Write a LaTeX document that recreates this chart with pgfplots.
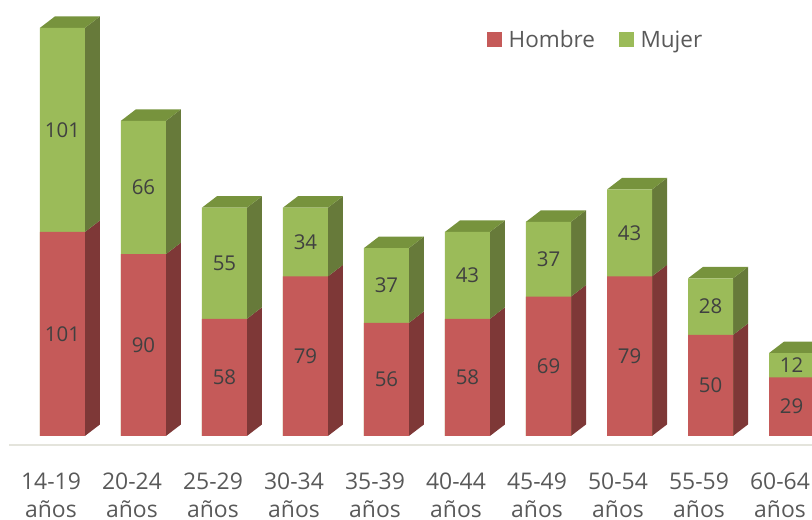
\documentclass[border=0pt]{standalone}
\usepackage{pgfplots}
\usepackage{pgfplotstable}
\pgfplotsset{compat=1.18}
\usepackage{fontspec}
\setmainfont{Open Sans}
\definecolor{hfront}{HTML}{C55A59}
\definecolor{hside}{HTML}{7E3837}
\definecolor{mfront}{HTML}{9BBB59}
\definecolor{mside}{HTML}{677A3A}
\definecolor{mtop}{HTML}{77933D}
\definecolor{floorc}{HTML}{E4E4DC}
\definecolor{ticktext}{HTML}{595959}
\definecolor{labtext}{HTML}{404040}

\pgfplotstableread{
x h m
0 101 101
1 90 66
2 58 55
3 79 34
4 56 37
5 58 43
6 69 37
7 79 43
8 50 28
9 29 12
}\datatable

\newcommand\hw{0.27778}
\newcommand\ddx{0.18519}
\newcommand\ddy{5.693}

\newcommand\barfaces[1]{%
  \pgfplotstablegetelem{#1}{h}\of\datatable \let\hval\pgfplotsretval
  \pgfplotstablegetelem{#1}{m}\of\datatable \let\mval\pgfplotsretval
  \pgfmathsetmacro\xl{#1-\hw}%
  \pgfmathsetmacro\xr{#1+\hw}%
  \pgfmathsetmacro\xlb{#1-\hw+\ddx}%
  \pgfmathsetmacro\xrb{#1+\hw+\ddx}%
  \pgfmathsetmacro\tval{\hval+\mval}%
  \pgfmathsetmacro\hb{\hval+\ddy}%
  \pgfmathsetmacro\tb{\tval+\ddy}%
  \edef\doit{%
    \noexpand\addplot[fill=hside, draw=none, forget plot] coordinates {(\xr,0) (\xrb,\ddy) (\xrb,\hb) (\xr,\hval)};
    \noexpand\addplot[fill=mside, draw=none, forget plot] coordinates {(\xr,\hval) (\xrb,\hb) (\xrb,\tb) (\xr,\tval)};
    \noexpand\addplot[fill=mtop, draw=none, forget plot] coordinates {(\xl,\tval) (\xlb,\tb) (\xrb,\tb) (\xr,\tval)};
  }\doit
}

\begin{document}
\begin{tikzpicture}
\begin{axis}[
  x=81bp, y=2.02bp,
  xmin=-0.660, xmax=9.253, ymin=-4.46, ymax=215.8,
  axis y line=none,
  axis x line*=bottom,
  x axis line style={draw=floorc, line width=2bp, -},
  xtick={0,...,9},
  major tick length=0pt,
  xticklabels={14-19\\años,20-24\\años,25-29\\años,30-34\\años,35-39\\años,40-44\\años,45-49\\años,50-54\\años,55-59\\años,60-64\\años},
  xticklabel style={align=center, anchor=north, inner sep=0pt, xshift=-11.5bp, yshift=-28bp, font=\fontsize{23}{28}\selectfont, text=ticktext},
  clip=true,
  legend columns=2,
  legend style={draw=none, fill=none, at={(rel axis cs:0.5953,0.9112)}, anchor=west, inner sep=0pt,
    font=\fontsize{22.6}{26}\selectfont, text=ticktext, nodes={inner sep=0pt},
    /tikz/every odd column/.append style={column sep=6.5bp},
    /tikz/every even column/.append style={column sep=24bp}},
  legend cell align=left,
  legend image code/.code={\fill[#1] (0bp,-7.5bp) rectangle (15bp,7.5bp);},
]
\addlegendimage{fill=hfront, draw=none}
\addlegendentry{Hombre}
\addlegendimage{fill=mfront, draw=none}
\addlegendentry{Mujer}

\pgfplotsforeachungrouped \i in {0,...,9}{\barfaces{\i}}

\addplot[ybar, bar width=0.55556, bar shift=0pt, fill=mfront, draw=none, forget plot]
  table[x=x, y expr=\thisrow{h}+\thisrow{m}] {\datatable};
\addplot[ybar, bar width=0.55556, bar shift=0pt, fill=hfront, draw=none, forget plot]
  table[x=x, y=h] {\datatable};

\addplot[draw=none, mark=none, forget plot, nodes near coords, point meta=explicit symbolic,
  nodes near coords style={anchor=center, font=\fontsize{20.5}{24}\selectfont, text=labtext, inner sep=0pt}]
  table[x=x, y expr=\thisrow{h}/2, meta=h] {\datatable};
\addplot[draw=none, mark=none, forget plot, nodes near coords, point meta=explicit symbolic,
  nodes near coords style={anchor=center, font=\fontsize{20.5}{24}\selectfont, text=labtext, inner sep=0pt}]
  table[x=x, y expr=\thisrow{h}+\thisrow{m}/2, meta=m] {\datatable};

\coordinate (sw) at (rel axis cs:0,0);
\coordinate (ne) at (rel axis cs:1,1);
\end{axis}
\pgfresetboundingbox
\path[use as bounding box] (sw) ++(-9bp,-75bp) rectangle (ne);
\end{tikzpicture}
\end{document}
